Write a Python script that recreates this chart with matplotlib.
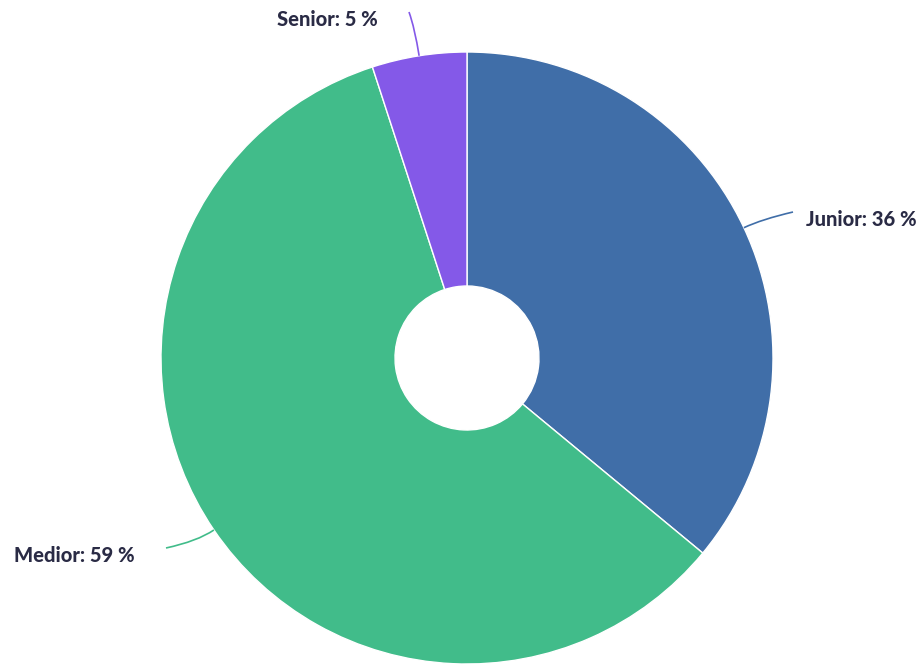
import numpy as np
import matplotlib
matplotlib.use("Agg")
import matplotlib.pyplot as plt
from matplotlib.path import Path
from matplotlib.patches import PathPatch

categories = ["Junior", "Medior", "Senior"]
values = [36, 59, 5]
colors = ["#406ea8", "#41bc8a", "#8459e8"]

W, H = 922, 664
fig = plt.figure(figsize=(W / 100, H / 100), dpi=100)
ax = fig.add_axes([0, 0, 1, 1])

cx, cy = 467, H - 358
R = 306
r_in = 72
wedges, _ = ax.pie(values, colors=colors, startangle=90, counterclock=False,
                   radius=R, center=(cx, cy), frame=True,
                   wedgeprops=dict(width=R - r_in, edgecolor="white", linewidth=1))
ax.set_xlim(0, W)
ax.set_ylim(0, H)
ax.set_aspect("equal")
ax.axis("off")

# label end points (layout) and text anchors
ends = {"Junior": (793, H - 212), "Medior": (166, H - 548), "Senior": (409, H - 12)}
text_pos = {"Junior": (806, H - 220, "left"), "Medior": (14, H - 556, "left"),
            "Senior": (378, H - 19, "right")}

cum = 0
for cat, v, col in zip(categories, values, colors):
    mid = (cum + v / 2) / sum(values) * 2 * np.pi
    cum += v
    sx, sy = cx + R * np.sin(mid), cy + R * np.cos(mid)
    c_r = R + (28 if cat == "Senior" else 20)
    qx, qy = cx + c_r * np.sin(mid), cy + c_r * np.cos(mid)
    ex, ey = ends[cat]
    path = Path([(sx, sy), (qx, qy), (ex, ey)], [Path.MOVETO, Path.CURVE3, Path.CURVE3])
    ax.add_patch(PathPatch(path, facecolor="none", edgecolor=col, linewidth=1.2))
    tx, ty, ha = text_pos[cat]
    ax.text(tx, ty, f"{cat}: {v} %", ha=ha, va="center", fontsize=14.5,
            fontweight="black", family="Lato", color="#2a2b45")

fig.savefig("out.png", dpi=100)
